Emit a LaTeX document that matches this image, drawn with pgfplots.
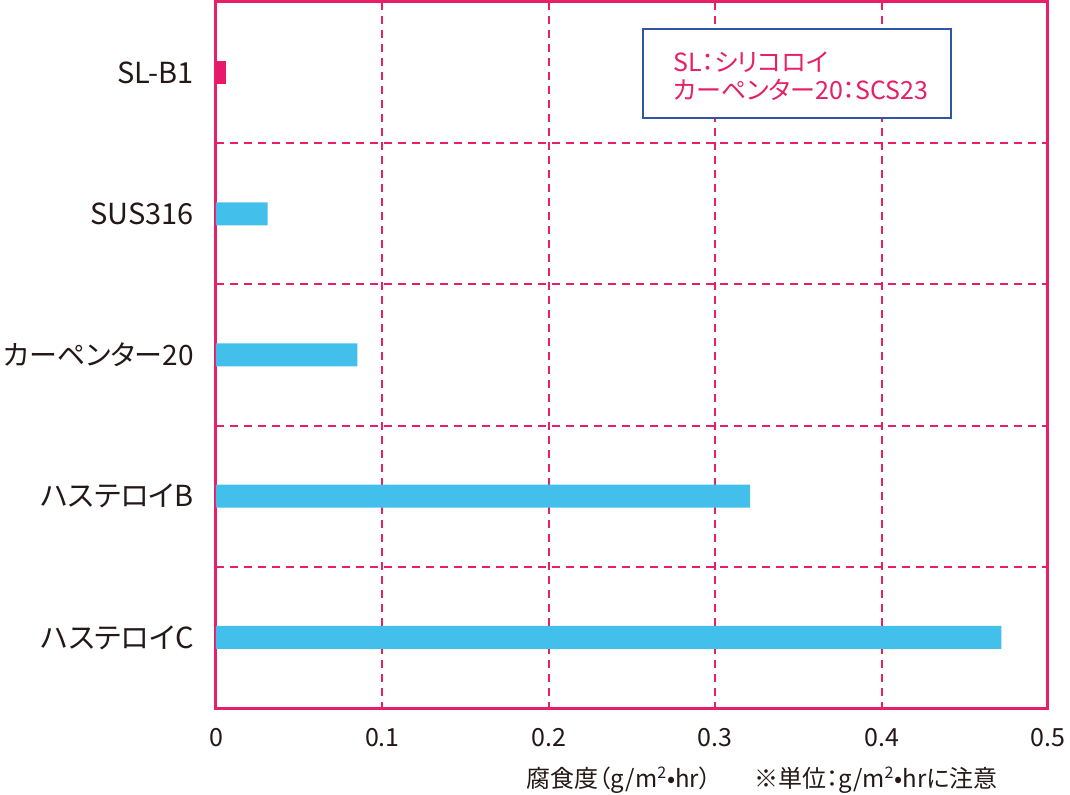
\documentclass[border=0pt]{standalone}
\usepackage{fontspec}
\setmainfont{Noto Sans CJK JP}[RawFeature=+palt]
\usepackage{pgfplots}
\pgfplotsset{compat=1.18}
\definecolor{pinkc}{HTML}{E61F66}
\definecolor{barpink}{HTML}{E8196A}
\definecolor{barblue}{HTML}{43BFEC}
\definecolor{boxblue}{HTML}{2F55A4}
\definecolor{txt}{HTML}{231815}
\begin{document}
\begin{tikzpicture}
\path[use as bounding box] (-108pt,-43.5pt) rectangle (427pt,354pt);
\begin{axis}[
  at={(0,0)}, anchor=south west,
  scale only axis, width=416pt, height=353pt,
  xmin=0, xmax=0.5, ymin=-0.5, ymax=4.5, y dir=reverse,
  xtick={0,0.1,0.2,0.3,0.4,0.5},
  xticklabels={0,0.1,0.2,0.3,0.4,0.5},
  ytick={0,1,2,3,4},
  yticklabels={SL-B1,SUS316,{\fontsize{14pt}{17pt}\selectfont カーペンター20},ハステロイB,ハステロイC},
  minor ytick={0.5,1.5,2.5,3.5},
  xmajorgrids=true, ymajorgrids=false, yminorgrids=true,
  major tick length=0pt, minor tick length=0pt,
  axis line style={pinkc, line width=1.5pt},
  grid style={pinkc, line width=1pt, dash pattern=on 4pt off 3pt},
  minor grid style={pinkc, line width=1pt, dash pattern=on 4pt off 3pt},
  xticklabel style={font=\fontsize{12.5pt}{14pt}\selectfont, text=txt, inner sep=0pt, anchor=north, yshift=-10pt},
  yticklabel style={font=\fontsize{14.5pt}{17pt}\selectfont, text=txt, inner sep=0pt, anchor=east, xshift=-11pt},
  xbar, bar width=11.5pt, bar shift=0pt,
  clip=false,
]
\addplot[fill=barpink, draw=none] coordinates {(0.006,0)};
\addplot[fill=barblue, draw=none] coordinates {(0.031,1) (0.085,2) (0.321,3) (0.472,4)};
\end{axis}
\draw[boxblue, line width=0.9pt, fill=white] (213.5pt,295pt) rectangle (367.5pt,339.5pt);
\node[anchor=west, inner sep=0pt, text=pinkc, font=\fontsize{12.5pt}{14pt}\selectfont] at (228.5pt,323pt) {SL：シリコロイ};
\node[anchor=west, inner sep=0pt, text=pinkc, font=\fontsize{12.5pt}{14pt}\selectfont] at (228.5pt,309pt) {カーペンター20：SCS23};
\node[inner sep=0pt, text=txt, font=\fontsize{12pt}{14pt}\selectfont] at (201.5pt,-36pt) {腐食度（g/m\textsuperscript{2}•hr）};
\node[inner sep=0pt, text=txt, font=\fontsize{12pt}{14pt}\selectfont] at (330pt,-36pt) {※単位：g/m\textsuperscript{2}•hrに注意};
\end{tikzpicture}
\end{document}
